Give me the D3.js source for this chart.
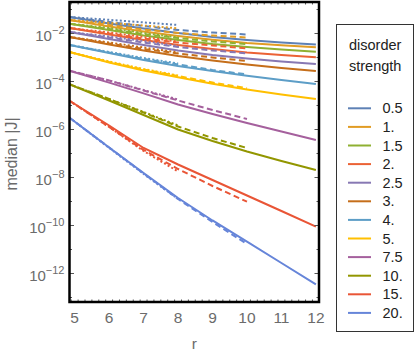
<!DOCTYPE html>
<html>
<head>
<meta charset="utf-8">
<script src="https://cdn.jsdelivr.net/npm/d3@7"></script>
<style>
  body { margin: 0; background: #fff; }
  svg { display: block; font-family: "Liberation Sans", Arial, sans-serif; }
</style>
</head>
<body>
<script>
// legend entries and Mathematica default colours
const disorder = ["0.5", "1.", "1.5", "2.", "2.5", "3.", "4.", "5.", "7.5", "10.", "15.", "20."]
const colors = ["#5e81b5", "#e19c24", "#8fb032", "#eb6235", "#8778b3", "#c56e1a",
                "#5d9ec7", "#ffbf00", "#a5609d", "#929600", "#e95536", "#6685d9"]

// r values (first point sits on the left frame edge)
const rSolid = [4.85, 6, 7, 8, 9, 10, 11, 12]
const rDashed = [4.85, 6, 7, 8, 9, 10]
const rDotted = [4.85, 6, 7, 8]

// median |J|
const solidJ = [
  [0.0487, 0.0261, 0.01616, 0.0105, 0.00715, 0.00536, 0.00422, 0.00348],
  [0.0365, 0.0196, 0.0121, 0.00787, 0.00546, 0.00402, 0.00322, 0.00266],
  [0.0256, 0.0140, 0.00825, 0.00536, 0.00365, 0.00274, 0.00215, 0.00174],
  [0.0169, 0.00909, 0.00536, 0.00332, 0.00226, 0.00162, 0.00127, 0.00102],
  [0.01155, 0.0059, 0.00332, 0.00196, 0.00127, 0.000909, 0.000681, 0.000536],
  [0.00715, 0.00348, 0.00196, 0.001155, 0.00075, 0.000511, 0.000365, 0.000274],
  [0.00332, 0.00154, 0.000787, 0.000442, 0.000274, 0.000173, 0.0001155, 0.0000787],
  [0.00169, 0.000619, 0.000287, 0.00015, 0.0000802, 0.0000464, 0.0000287, 0.0000187],
  [0.000282, 0.000090, 0.0000319, 0.0000110, 4.42e-6, 1.87e-6, 8.25e-7, 3.65e-7],
  [7.64e-5, 1.62e-5, 4.02e-6, 1.0e-6, 3.32e-7, 1.21e-7, 4.87e-8, 2.05e-8],
  [1.58e-5, 1.47e-6, 1.70e-7, 3.48e-8, 7.87e-9, 1.78e-9, 4.02e-10, 8.9e-11],
  [3.10e-6, 1.78e-7, 1.54e-8, 1.40e-9, 1.62e-10, 2.11e-11, 2.74e-12, 3.55e-13]
]
const dashedJ = [
  [0.0487, 0.0301, 0.0205, 0.0140, 0.0110, 0.00909],
  [0.0365, 0.0226, 0.01468, 0.0105, 0.00825, 0.00681],
  [0.0256, 0.0154, 0.00953, 0.00649, 0.00464, 0.00365],
  [0.0169, 0.0100, 0.00619, 0.00422, 0.00316, 0.00242],
  [0.01155, 0.00681, 0.00422, 0.00274, 0.00196, 0.0015],
  [0.00715, 0.00383, 0.00226, 0.00147, 0.0010, 0.000715],
  [0.00332, 0.00162, 0.000866, 0.000511, 0.000301, 0.000196],
  [0.00169, 0.000649, 0.000316, 0.000169, 0.0000909, 0.0000521],
  [0.000282, 0.00011, 0.0000422, 1.62e-5, 6.49e-6, 2.74e-6],
  [7.64e-5, 1.87e-5, 5.11e-6, 1.33e-6, 4.42e-7, 1.70e-7],
  [1.58e-5, 1.27e-6, 1.40e-7, 2.26e-8, 4.42e-9, 9.8e-10],
  [3.10e-6, 1.78e-7, 1.47e-8, 1.27e-9, 1.40e-10, 1.70e-11]
]
const dottedJ = [
  [0.0487, 0.0372, 0.029, 0.0226],
  [0.0365, 0.0279, 0.0215, 0.0165],
  [0.0256, 0.0169, 0.0105, 0.00681],
  [0.0169, 0.011, 0.00715, 0.00464],
  [0.01155, 0.0075, 0.00487, 0.00301],
  [0.00715, 0.00422, 0.00261, 0.00162],
  [0.00332, 0.0017, 0.000953, 0.000562],
  [0.00169, 0.000681, 0.000332, 0.000178],
  [0.000282, 0.00011, 4.42e-5, 1.78e-5],
  [7.64e-5, 1.87e-5, 5.36e-6, 1.47e-6],
  [1.58e-5, 1.27e-6, 1.27e-7, 1.78e-8],
  [3.10e-6, 1.70e-7, 1.40e-8, 1.27e-9]
]

const xTicks = [5, 6, 7, 8, 9, 10, 11, 12]
const yTickExp = [-2, -4, -6, -8, -10, -12]

const W = 415, H = 356
const plot = { left: 69.5, right: 319, top: 2, bottom: 302 }

const svg = d3.select("body").append("svg")
  .attr("width", W)
  .attr("height", H)

const x = d3.scaleLinear()
  .domain([4.85, 12.09])
  .range([plot.left, plot.right])

const y = d3.scaleLog()
  .domain([Math.pow(10, -13.1875), Math.pow(10, -0.6875)])
  .range([plot.bottom, plot.top])

svg.append("clipPath").attr("id", "clip")
  .append("rect")
  .attr("x", plot.left).attr("y", plot.top)
  .attr("width", plot.right - plot.left).attr("height", plot.bottom - plot.top)

const line = d3.line()
  .x(d => x(d[0]))
  .y(d => y(d[1]))

const lines = svg.append("g").attr("clip-path", "url(#clip)")

function drawSet(rs, set, dash) {
  set.forEach((vals, i) => {
    lines.append("path")
      .datum(vals.map((v, j) => [rs[j], v]))
      .attr("d", line)
      .attr("fill", "none")
      .attr("stroke", colors[i])
      .attr("stroke-width", 2)
      .attr("stroke-dasharray", dash)
  })
}
drawSet(rSolid, solidJ, null)
drawSet(rDashed, dashedJ, "6,3.5")
drawSet(rDotted, dottedJ, "2,2.2")

// frame ticks
const ticks = svg.append("g").attr("stroke", "#555").attr("stroke-width", 1)
d3.range(49, 121, 2).map(v => v / 10).forEach(v => {
  const major = Math.abs(v - Math.round(v)) < 1e-6
  const len = major ? 4.5 : 2.5
  ticks.append("line").attr("x1", x(v)).attr("x2", x(v))
    .attr("y1", plot.bottom).attr("y2", plot.bottom - len)
  ticks.append("line").attr("x1", x(v)).attr("x2", x(v))
    .attr("y1", plot.top).attr("y2", plot.top + len)
})
d3.range(-13, 0).forEach(e => {
  const len = e % 2 === 0 ? 4.5 : 2.5
  const yy = y(Math.pow(10, e))
  ticks.append("line").attr("x1", plot.left).attr("x2", plot.left + len)
    .attr("y1", yy).attr("y2", yy)
  ticks.append("line").attr("x1", plot.right).attr("x2", plot.right - len)
    .attr("y1", yy).attr("y2", yy)
})

// frame
svg.append("rect")
  .attr("x", plot.left).attr("y", plot.top)
  .attr("width", plot.right - plot.left).attr("height", plot.bottom - plot.top)
  .attr("fill", "none")
  .attr("stroke", "#000")
  .attr("stroke-width", 2.5)

// tick labels
const labelColor = "#6b6b6b"
xTicks.forEach(t => {
  svg.append("text")
    .attr("x", x(t)).attr("y", 322.5)
    .attr("text-anchor", "middle")
    .attr("fill", labelColor)
    .style("font-size", "15.5px")
    .text(t)
})
yTickExp.forEach(e => {
  const tx = svg.append("text")
    .attr("x", 64.5).attr("y", y(Math.pow(10, e)) + 7)
    .attr("text-anchor", "end")
    .attr("fill", labelColor)
    .style("font-size", "15px")
  tx.append("tspan").text("10")
  tx.append("tspan").attr("dy", -7).style("font-size", "11px").text("\u2212" + (-e))
})

// axis labels
svg.append("text")
  .attr("transform", `translate(16.5, 154) rotate(-90)`)
  .attr("text-anchor", "middle")
  .attr("fill", labelColor)
  .style("font-size", "16px")
  .text("median |J|")

svg.append("text")
  .attr("x", (plot.left + plot.right) / 2).attr("y", 348.5)
  .attr("text-anchor", "middle")
  .attr("fill", labelColor)
  .style("font-size", "15.5px")
  .text("r")

// legend
const legend = svg.append("g")
legend.append("rect")
  .attr("x", 336.5).attr("y", 24.5)
  .attr("width", 77).attr("height", 307)
  .attr("fill", "#fff")
  .attr("stroke", "#333")
  .attr("stroke-width", 1)
legend.append("text").attr("x", 349).attr("y", 50)
  .attr("fill", "#222").style("font-size", "14.5px").text("disorder")
legend.append("text").attr("x", 349).attr("y", 71)
  .attr("fill", "#222").style("font-size", "14.5px").text("strength")

disorder.forEach((d, i) => {
  const ly = 108.3 + i * 18.6
  legend.append("line")
    .attr("x1", 348).attr("x2", 371)
    .attr("y1", ly).attr("y2", ly)
    .attr("stroke", colors[i])
    .attr("stroke-width", 2)
  legend.append("text")
    .attr("x", 382.5).attr("y", ly + 5)
    .attr("fill", "#222")
    .style("font-size", "14.5px")
    .text(d)
})
</script>
</body>
</html>
